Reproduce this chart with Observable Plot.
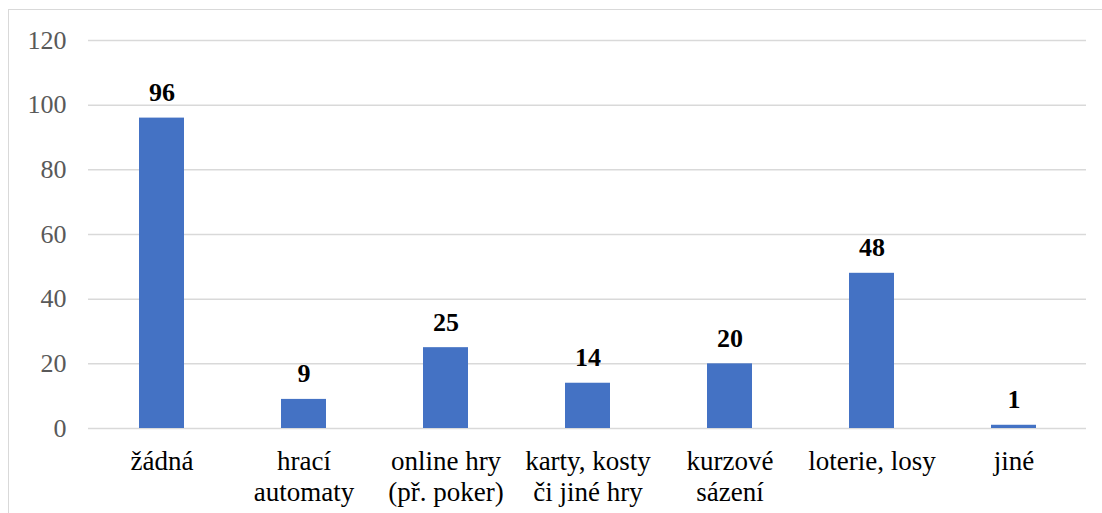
<!DOCTYPE html>
<html>
<head>
<meta charset="utf-8">
<script src="https://cdn.jsdelivr.net/npm/d3@7"></script>
<script src="https://cdn.jsdelivr.net/npm/@observablehq/plot@0.6"></script>
<style>
  html, body { margin: 0; padding: 0; background: #fff; }
  #wrap { position: relative; width: 1102px; height: 513px; overflow: hidden; }
  #frame { position: absolute; left: 8px; top: 9px; width: 1200px; height: 600px; border: 1px solid #d9d9d9; box-sizing: border-box; }
  #chart { position: absolute; left: 0; top: 0; }
</style>
</head>
<body>
<div id="wrap"><div id="frame"></div><div id="chart"></div></div>
<script>
const categories = ["žádná", "hrací\nautomaty", "online hry\n(př. poker)", "karty, kosty\nči jiné hry", "kurzové\nsázení", "loterie, losy", "jiné"];
const values = [96, 9, 25, 14, 20, 48, 1];
const yTicks = [0, 20, 40, 60, 80, 100, 120];

const data = categories.map((c, i) => ({category: c, value: values[i]}));
const FONT = "Liberation Serif";

const chart = Plot.plot({
  width: 1102,
  height: 513,
  marginLeft: 88,
  marginRight: 16,
  marginTop: 40,
  marginBottom: 85,
  style: {background: "transparent", fontFamily: FONT, fontSize: "26px"},
  x: {domain: categories, paddingInner: 0.684, paddingOuter: 0.342, label: null},
  y: {domain: [0, 120], label: null, axis: null},
  marks: [
    Plot.gridY(yTicks, {stroke: "#d9d9d9", strokeOpacity: 1, strokeWidth: 1.5}),
    Plot.text(yTicks, {y: d => d, text: d => String(d), frameAnchor: "left", textAnchor: "end", dx: -22, fontSize: 26, fontFamily: FONT, fill: "#595959"}),
    Plot.axisX({tickSize: 0, tickPadding: 20, fontSize: 27, fill: "#000", fontFamily: FONT, lineHeight: 1.13, label: null}),
    Plot.barY(data, {x: "category", y: "value", fill: "#4472C4"}),
    Plot.text(data, {x: "category", y: "value", text: d => String(d.value), lineAnchor: "bottom", dy: -17, fontSize: 26, fontWeight: "bold", fontFamily: FONT, fill: "#000"})
  ]
});
document.getElementById("chart").appendChild(chart);
</script>
</body>
</html>
